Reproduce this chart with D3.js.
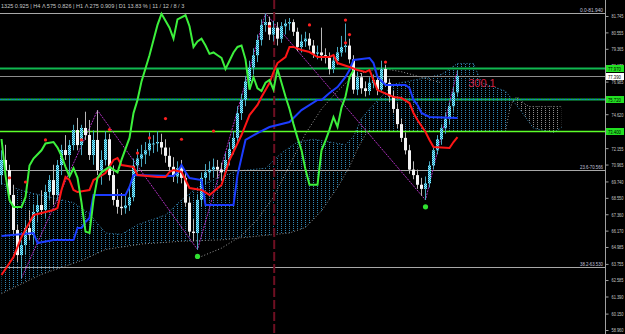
<!DOCTYPE html>
<html>
  <head>
    <meta charset="utf-8">
    <title>Ichimoku chart</title>
    <script src="https://d3js.org/d3.v7.min.js"></script>
    <style>
      body { margin: 0; background: #000; }
      svg { display: block; background: #000; }
      text { font-family: "Liberation Sans", "DejaVu Sans", sans-serif; }
    </style>
  </head>
  <body>
    <svg id="svg" width="625" height="334">
      <defs>
        <pattern id="bull" x="0" y="0" width="2" height="2" patternUnits="userSpaceOnUse">
          <rect width="2" height="2" fill="#1b8fb4"></rect>
          <rect width="1" height="1" fill="#8ff0ff"></rect>
          <rect x="1" y="1" width="1" height="1" fill="#8ff0ff"></rect>
        </pattern>
        <pattern id="kumoUp" x="1" y="0" width="4" height="2" patternUnits="userSpaceOnUse">
          <rect width="1" height="1" fill="#2f86b4"></rect>
        </pattern>
        <pattern id="kumoDown" x="1" y="0" width="4" height="2" patternUnits="userSpaceOnUse">
          <rect width="1" height="1" fill="#8c8c8c"></rect>
        </pattern>
        <clipPath id="plot"><rect width="605" height="334"></rect></clipPath>
        <clipPath id="belowA"><path id="belowAPath"></path></clipPath>
        <clipPath id="aboveA"><path id="aboveAPath"></path></clipPath>
      </defs>
    </svg>
    <script>
      // candles (bar 0 = left edge)
      var open = [70.20,71.30,70.57,68.76,66.22,64.40,65.13,66.36,65.85,67.52,
        68.03,67.67,68.97,69.84,68.76,70.93,72.02,71.66,72.38,73.47,
        72.38,73.62,73.11,71.66,72.75,70.57,71.30,72.80,70.20,68.40,
        67.90,67.80,68.00,68.60,70.90,71.40,71.70,72.00,72.50,72.50,
        72.60,72.20,71.60,70.80,70.10,70.70,70.00,68.20,66.10,66.00,
        68.40,70.00,70.40,70.60,70.80,70.60,70.40,71.30,72.10,72.90,
        74.70,75.65,77.00,78.00,78.90,80.00,81.10,81.30,80.40,80.90,
        80.10,81.00,81.20,81.30,80.60,79.50,79.90,80.10,79.60,79.00,
        79.10,78.90,78.70,77.90,78.50,79.10,79.50,79.60,78.60,76.40,
        77.30,76.50,76.30,76.90,77.10,76.40,77.90,76.90,75.90,75.00,
        73.90,72.90,72.00,70.60,70.20,69.50,69.20,69.60,70.90,72.00,
        72.80,73.60,74.30,75.20,76.20];
      var high = [72.00,72.40,70.95,69.50,66.60,65.50,66.95,67.65,68.05,68.75,
        69.10,69.50,70.20,70.95,71.30,72.40,73.10,72.75,73.85,74.35,
        73.85,74.80,74.20,73.45,74.90,72.00,73.40,73.20,70.90,69.20,
        68.90,68.70,69.30,71.40,72.10,72.40,72.60,73.30,73.10,73.40,
        73.20,72.80,72.20,71.50,71.20,71.30,70.40,68.60,67.00,68.80,
        70.40,71.00,71.20,71.40,71.30,71.10,71.80,72.60,73.40,75.20,
        76.10,77.40,78.50,79.40,80.40,81.50,81.94,81.70,81.40,81.30,
        81.30,81.50,81.60,81.50,80.90,80.40,80.60,80.50,80.00,79.60,
        80.90,79.40,79.10,78.90,79.50,80.30,81.20,80.10,78.90,77.70,
        77.60,77.00,77.30,77.50,77.40,78.50,78.20,77.20,76.30,75.40,
        74.30,73.30,72.40,71.20,70.60,70.00,70.10,71.20,72.30,73.10,
        73.90,74.70,75.50,76.60,77.80];
      var low = [69.50,69.90,68.40,65.85,63.90,62.73,64.40,65.50,65.15,66.80,
        67.30,67.10,68.40,68.05,68.40,70.20,71.30,70.20,72.00,72.00,
        71.65,72.75,71.30,70.95,70.20,69.50,70.90,69.80,68.00,67.40,
        67.30,67.40,67.60,68.30,70.40,70.80,71.00,71.60,71.80,71.90,
        71.70,71.10,70.40,69.70,69.60,69.60,67.90,65.80,65.40,64.80,
        67.90,69.50,69.80,70.00,70.00,69.80,70.10,70.90,71.70,72.50,
        74.20,75.20,76.60,77.50,78.40,79.60,80.60,80.00,79.90,79.60,
        79.80,80.40,80.70,80.30,79.20,79.10,79.50,79.30,78.70,78.60,
        78.50,78.30,77.50,77.60,78.20,78.80,79.10,78.30,76.10,76.00,
        76.10,75.90,76.00,76.50,76.00,76.20,76.60,75.50,74.70,73.60,
        72.60,71.70,70.30,69.90,69.20,68.70,68.40,69.30,70.60,71.70,
        72.40,73.20,73.90,74.80,75.90];
      var close = [71.30,70.57,68.76,66.22,64.40,65.13,66.36,65.85,67.52,68.03,
        67.67,68.97,69.84,68.76,70.93,72.02,71.66,72.38,73.47,72.38,
        73.62,73.11,71.66,72.75,70.57,71.30,72.80,70.20,68.40,67.90,
        67.80,68.00,68.60,70.90,71.40,71.70,72.00,72.50,72.50,72.60,
        72.20,71.60,70.80,70.10,70.70,70.00,68.20,66.10,66.00,68.40,
        70.00,70.40,70.60,70.80,70.60,70.40,71.30,72.10,72.90,74.70,
        75.65,77.00,78.00,78.90,80.00,81.10,81.30,80.40,80.90,80.10,
        81.00,81.20,81.30,80.60,79.50,79.90,80.10,79.60,79.00,79.10,
        78.90,78.70,77.90,78.50,79.10,79.50,79.60,78.60,76.40,77.30,
        76.50,76.30,76.90,77.10,76.40,77.90,76.90,75.90,75.00,73.90,
        72.90,72.00,70.60,70.20,69.50,69.20,69.60,70.90,72.00,72.80,
        73.60,74.30,75.20,76.20,77.39];

      // indicator lines, [bar, price] vertices
      var tenkan = [[0,62.95],[3,64.26],[5,65.71],[8,67.30],[10,67.45],[13,67.67],[14,67.81],[15,69.12],[16,70.06],[17,69.84],[18,69.12],[19,68.97],[22,69.12],[23,69.84],[24,69.99],[26,70.35],[28,71.30],[29,71.44],[30,70.93],[33,70.79],[34,70.21],[39,70.06],[41,70.06],[42,70.43],[43,70.57],[45,70.43],[46,69.84],[47,69.26],[50,69.12],[52,68.76],[55,69.48],[57,71.30],[60,73.11],[62,74.56],[64,75.29],[65,75.87],[67,76.88],[68,77.68],[69,78.33],[71,78.77],[72,79.50],[73,79.50],[75,79.28],[77,79.13],[79,78.77],[82,78.77],[83,78.91],[84,78.33],[87,78.04],[89,77.83],[91,77.68],[92,77.83],[93,77.10],[94,76.37],[98,75.87],[100,75.79],[102,75.43],[103,74.71],[104,74.20],[106,73.33],[107,72.75],[108,72.24],[112,72.17],[113,72.60],[114,72.96]];
      var kijun = [[0,65.78],[8,66.00],[9,65.27],[13,65.49],[18,65.49],[19,66.36],[20,66.36],[21,66.80],[22,67.09],[23,68.76],[31,68.76],[32,69.34],[33,70.21],[43,70.13],[44,70.43],[45,70.93],[46,70.43],[47,69.99],[50,69.84],[51,68.03],[58,68.03],[59,70.20],[61,72.75],[64,73.25],[67,73.69],[72,74.05],[75,74.92],[79,75.65],[80,75.65],[82,76.16],[84,76.59],[86,77.32],[87,77.83],[88,78.55],[92,78.70],[93,78.33],[94,77.32],[96,76.74],[101,76.74],[102,76.52],[103,75.65],[104,75.29],[105,74.71],[107,74.42],[114,74.34]];
      var chikou = [[0,72.82],[1,70.2],[2,68.39],[3,67.88],[5,67.88],[6,68.6],[7,70.9],[8,71.4],[10,72.0],[11,72.5],[13,72.6],[14,72.2],[15,71.6],[16,70.8],[17,70.1],[18,70.7],[19,70.0],[20,68.2],[21,66.1],[22,66.0],[23,68.4],[24,70.0],[25,70.4],[27,70.8],[29,70.4],[30,71.3],[32,72.9],[33,74.7],[34,75.65],[35,77.0],[37,78.9],[38,80.0],[39,81.1],[40,81.9],[42,80.9],[43,80.1],[44,81.5],[46,81.8],[47,81.0],[48,79.5],[49,79.9],[50,80.1],[51,79.6],[52,79.0],[53,79.1],[54,78.9],[55,78.7],[56,77.9],[57,78.5],[58,79.1],[59,79.5],[60,79.6],[61,78.6],[62,76.4],[63,77.3],[64,76.5],[65,76.3],[66,76.9],[67,77.1],[68,76.4],[69,77.9],[70,76.9],[71,75.9],[72,75.0],[73,73.9],[74,72.9],[75,72.0],[76,70.6],[77,69.5],[79,69.5],[80,72.0],[81,72.7],[82,73.5],[83,74.4],[84,73.7],[85,75.1],[86,75.9],[87,77.3],[88,77.8]];
      var spanA = [[0,69.6],[6,69.0],[12,68.6],[18,68.2],[22,67.4],[26,66.0],[30,65.9],[34,66.6],[41,67.3],[45,68.4],[49,69.3],[54,70.0],[59,70.5],[66,70.7],[70,71.8],[74,72.6],[78,72.8],[82,72.6],[86,72.4],[88,73.0],[90,74.3],[92,75.0],[94,75.6],[98,76.8],[105,77.2],[110,77.5],[114,78.3],[118,78.3],[120,76.9],[126,76.3],[130,74.8],[133,73.6],[138,73.3],[140,73.65]];
      var spanB = [[0,61.6],[10,63.0],[20,64.0],[26,64.8],[35,65.2],[45,65.4],[55,65.5],[65,65.8],[72,66.0],[76,66.4],[80,67.6],[84,69.3],[87,70.8],[89,72.1],[91,73.15],[92,73.37],[126,73.37],[127,74.92],[128,75.72],[129,75.87],[130,75.57],[131,75.32],[132,75.17],[140,75.17]];
      var grayLine = [[50,64.3],[55,64.9],[60,65.8],[64,67.0],[68,68.6],[72,70.9],[76,73.2],[80,75.0],[84,76.3],[88,77.4],[92,77.8],[96,77.9],[100,77.7],[105,77.3],[110,76.9]];
      var zigzag = [[5,62.73],[24,74.90],[49,64.80],[66,81.94],[106,68.40],[114,77.80]];
      var fractalUp = [[2,70.0],[6,69.7],[11,72.75],[20,72.75],[27,73.5],[34,71.8],[37,72.9],[41,74.3],[45,72.8],[53,73.4],[67,81.0],[77,81.1],[86,81.45],[87,80.4],[86,79.8],[96,78.4]];
      var fractalDown = [[49,64.3],[106,67.9]];
      var bigFractalDown = [49, 106];

      // levels
      var tickValues = [81.745, 80.555, 79.365, 78.175, 76.985, 75.795, 74.620, 73.430, 72.155, 70.965, 69.740, 68.550, 67.360, 66.170, 64.985, 63.755, 62.585, 61.390, 60.150, 58.960];
      var hiddenTicks = [75.795, 73.430];
      var fibLevels = [81.940, 70.566, 63.530];
      var fibNames = ["0.0", "23.6", "38.2"];
      var greenLevels = [77.970, 75.720, 73.400];
      var lastPrice = 77.390;
      var separatorBar = 68.3;
      var infoText = "1325  0.925 | H4 Λ 575  0.826 | H1 Λ 275  0.909 | D1  13.83 % | 11 / 12 / 8 / 3";
      var noteText = "300.1";
      var noteAt = [116.8, 76.6];

      // squeeze a text horizontally to a given width, around its anchor
      function squeeze(node, width, ax) {
        var s = width / node.getComputedTextLength();
        d3.select(node).attr("transform", "translate(" + ax + ",0) scale(" + s + ",1) translate(" + (-ax) + ",0)");
      }

      // scales
      svg = d3.select("#svg");
      x = d3.scaleLinear().domain([0, 140]).range([1, 561]);
      y = d3.scaleLinear().domain([58.96, 81.745]).range([330, 16]);
      line = d3.line()
        .x(function(d) { return x(d[0]) + 0.5; })
        .y(function(d) { return y(d[1]); });
      plot = svg.append("g").attr("clip-path", "url(#plot)");

      // kumo (dotted histogram between the spans)
      var aPath = line(spanA);
      var bPath = line(spanB.slice().reverse());
      var kumoPath = aPath + "L" + bPath.slice(1) + "Z";
      d3.select("#belowAPath").attr("d", aPath + "L" + x(140) + ",334L0,334Z");
      d3.select("#aboveAPath").attr("d", aPath + "L" + x(140) + ",0L0,0Z");
      plot.append("path").attr("d", kumoPath).attr("fill", "url(#kumoUp)").attr("clip-path", "url(#belowA)");
      plot.append("path").attr("d", kumoPath).attr("fill", "url(#kumoDown)").attr("clip-path", "url(#aboveA)");
      plot.append("path").datum(spanA).attr("d", line)
        .attr("fill", "none").attr("stroke", "#3a8fc0").attr("stroke-width", 1).attr("stroke-dasharray", "1,2");
      plot.append("path").datum(spanB).attr("d", line)
        .attr("fill", "none").attr("stroke", "#909090").attr("stroke-width", 1).attr("stroke-dasharray", "1,2");
      plot.append("path").datum(grayLine).attr("d", line)
        .attr("fill", "none").attr("stroke", "#9a9a9a").attr("stroke-width", 1).attr("stroke-dasharray", "1,2");

      // horizontal levels
      fibLevels.forEach(function(v) {
        plot.append("line").attr("x1", 0).attr("x2", 605)
          .attr("y1", Math.round(y(v)) + 0.5).attr("y2", Math.round(y(v)) + 0.5)
          .attr("stroke", "#a8a8a8").attr("stroke-width", 1);
      });
      plot.append("line").attr("x1", 0).attr("x2", 605)
        .attr("y1", Math.round(y(lastPrice)) + 0.5).attr("y2", Math.round(y(lastPrice)) + 0.5)
        .attr("stroke", "#8c8c8c").attr("stroke-width", 1);
      greenLevels.forEach(function(v, i) {
        var yy = Math.round(y(v)) + 0.5;
        plot.append("line").attr("x1", 0).attr("x2", 605).attr("y1", yy).attr("y2", yy)
          .attr("stroke", i == 2 ? "#5cff2a" : "#10b850").attr("stroke-width", i == 2 ? 1.5 : 2);
        if (i == 1) plot.append("line").attr("x1", 0).attr("x2", 605).attr("y1", yy).attr("y2", yy)
          .attr("stroke", "#2050ff").attr("stroke-width", 1).attr("stroke-dasharray", "1,2");
      });

      // separator
      plot.append("line").attr("x1", x(separatorBar)).attr("x2", x(separatorBar)).attr("y1", 0).attr("y2", 334)
        .attr("stroke", "#6e0f22").attr("stroke-width", 2).attr("stroke-dasharray", "9,3");

      // zigzag
      plot.append("path").datum(zigzag).attr("d", line)
        .attr("fill", "none").attr("stroke", "#b030c0").attr("stroke-width", 1).attr("stroke-dasharray", "2,1");

      // candles
      var bars = d3.range(close.length);
      plot.selectAll(".wick").data(bars).enter().append("line")
        .attr("x1", function(i) { return Math.round(x(i)) + 0.5; })
        .attr("x2", function(i) { return Math.round(x(i)) + 0.5; })
        .attr("y1", function(i) { return y(high[i]); })
        .attr("y2", function(i) { return y(low[i]); })
        .attr("stroke", function(i) { return close[i] >= open[i] ? "#4aa8c0" : "#b8b8b8"; })
        .attr("stroke-width", 1);
      plot.selectAll(".body").data(bars).enter().append("rect")
        .attr("x", function(i) { return Math.round(x(i)) - 1; })
        .attr("width", 3)
        .attr("y", function(i) { return y(Math.max(open[i], close[i])); })
        .attr("height", function(i) { return Math.max(1, Math.abs(y(open[i]) - y(close[i]))); })
        .attr("fill", function(i) { return close[i] >= open[i] ? "url(#bull)" : "#f4f4f4"; });

      // ichimoku lines
      plot.append("path").datum(kijun).attr("d", line)
        .attr("fill", "none").attr("stroke", "#1c3cff").attr("stroke-width", 2);
      plot.append("path").datum(tenkan).attr("d", line)
        .attr("fill", "none").attr("stroke", "#ff1616").attr("stroke-width", 2);
      plot.append("path").datum(chikou).attr("d", line)
        .attr("fill", "none").attr("stroke", "#3cf03c").attr("stroke-width", 2);

      // fractals
      plot.selectAll(".fup").data(fractalUp).enter().append("circle")
        .attr("cx", function(d) { return x(d[0]) + 0.5; })
        .attr("cy", function(d) { return y(d[1]); })
        .attr("r", 1.6).attr("fill", "#ff2020");
      plot.selectAll(".fdn").data(fractalDown).enter().append("circle")
        .attr("cx", function(d) { return x(d[0]) + 0.5; })
        .attr("cy", function(d) { return y(d[1]); })
        .attr("r", function(d) { return bigFractalDown.indexOf(d[0]) >= 0 ? 2.6 : 1.5; })
        .attr("fill", "#30e030");

      // note
      plot.append("text").attr("x", x(noteAt[0])).attr("y", y(noteAt[1]))
        .attr("fill", "#d02040").attr("font-size", 11).attr("font-family", "DejaVu Sans").text(noteText);

      // fibo labels
      fibLevels.forEach(function(v, i) {
        var t = svg.append("text").attr("x", 603).attr("y", Math.round(y(v)) - 1)
          .attr("text-anchor", "end").attr("fill", "#c4c4dc").attr("font-size", 6)
          .text(fibNames[i] + "-" + v.toFixed(3));
        squeeze(t.node(), 23, 603);
      });

      // info line
      var info = svg.append("text").attr("x", 1).attr("y", 8).attr("fill", "#c8c8c8").attr("font-size", 6).text(infoText);
      squeeze(info.node(), 184, 1);

      // price axis
      axis = d3.axisRight(y).tickValues(tickValues).tickSize(3)
        .tickFormat(function(d) { return hiddenTicks.indexOf(d) >= 0 ? "" : d3.format(".3f")(d); });
      axisGroup = svg.append("g").attr("transform", "translate(605.5,0)").call(axis);
      axisGroup.select(".domain").attr("stroke", "#a0a0a0").attr("d", "M0,0V334");
      axisGroup.selectAll(".tick line").attr("stroke", "#a0a0a0");
      axisGroup.selectAll(".tick text").attr("x", 6).attr("fill", "#c8c8c8").attr("font-size", 6)
        .attr("font-family", "Liberation Sans")
        .each(function() { if (this.textContent) squeeze(this, 12, 6); });

      // level tags on the axis
      var tags = greenLevels.map(function(v) { return {v: v, bg: "#22e022"}; });
      tags.push({v: lastPrice, bg: "#ffffff"});
      tags.forEach(function(t) {
        var yy = Math.round(y(t.v));
        svg.append("rect").attr("x", 606).attr("y", yy - 3).attr("width", 18).attr("height", 7).attr("fill", t.bg);
        var tx = svg.append("text").attr("x", 608).attr("y", yy + 3).attr("fill", "#000").attr("font-size", 5)
          .text(t.v.toFixed(3));
        squeeze(tx.node(), 13, 608);
      });
    </script>
  </body>
</html>
